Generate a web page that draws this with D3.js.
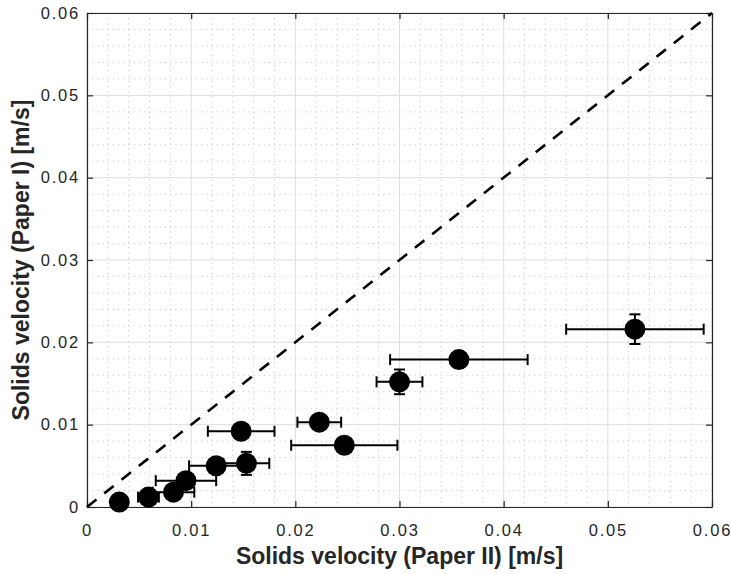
<!DOCTYPE html>
<html>
<head>
<meta charset="utf-8">
<script src="https://cdn.jsdelivr.net/npm/d3@7"></script>
<style>
  html, body { margin: 0; padding: 0; background: #fff; }
  svg { display: block; font-family: Arial, "Liberation Sans", Helvetica, sans-serif; }
</style>
</head>
<body>
<svg id="chart" width="731" height="574"></svg>
<script>
// Solids velocity comparison: Paper II (x) vs Paper I (y), with error bars
const xVals = [0.0031, 0.0059, 0.0083, 0.0095, 0.0124, 0.0153, 0.0148, 0.0223, 0.0247, 0.0300, 0.0357, 0.0526];
const yVals = [0.0006, 0.0012, 0.0018, 0.0032, 0.0050, 0.0053, 0.0092, 0.0103, 0.0075, 0.0152, 0.0179, 0.0216];
const xErr  = [0.0000, 0.0010, 0.0020, 0.0029, 0.0026, 0.0022, 0.0032, 0.0021, 0.0051, 0.0022, 0.0066, 0.0066];
const yErr  = [0.0000, 0.0000, 0.0000, 0.0000, 0.0000, 0.0014, 0.0000, 0.0000, 0.0000, 0.0015, 0.0000, 0.0018];
const majorTicks = [0, 0.01, 0.02, 0.03, 0.04, 0.05, 0.06];
const minorTicks = d3.range(0, 0.0601, 0.002).filter(v => Math.abs(v / 0.01 - Math.round(v / 0.01)) > 1e-6);
const tickLabels = ["0", "0.01", "0.02", "0.03", "0.04", "0.05", "0.06"];
const xTitle = "Solids velocity (Paper II) [m/s]";
const yTitle = "Solids velocity (Paper I) [m/s]";

const svg = d3.select("#chart");
const plotL = 87, plotR = 712, plotT = 13, plotB = 507;
const x = d3.scaleLinear().domain([0, 0.06]).range([plotL, plotR]);
const y = d3.scaleLinear().domain([0, 0.06]).range([plotB, plotT]);
const ink = "#262626";

// minor grid (dotted)
const grid = svg.append("g");
grid.selectAll("line.mx").data(minorTicks).join("line")
  .attr("x1", d => x(d)).attr("x2", d => x(d)).attr("y1", plotT).attr("y2", plotB)
  .attr("stroke", "#c8c8c8").attr("stroke-width", 1).attr("stroke-dasharray", "1.2,4");
grid.selectAll("line.my").data(minorTicks).join("line")
  .attr("y1", d => y(d)).attr("y2", d => y(d)).attr("x1", plotL).attr("x2", plotR)
  .attr("stroke", "#c8c8c8").attr("stroke-width", 1).attr("stroke-dasharray", "1.2,4");
// major grid (solid)
grid.selectAll("line.Mx").data(majorTicks).join("line")
  .attr("x1", d => x(d)).attr("x2", d => x(d)).attr("y1", plotT).attr("y2", plotB)
  .attr("stroke", "#dedede").attr("stroke-width", 1);
grid.selectAll("line.My").data(majorTicks).join("line")
  .attr("y1", d => y(d)).attr("y2", d => y(d)).attr("x1", plotL).attr("x2", plotR)
  .attr("stroke", "#dedede").attr("stroke-width", 1);

// axes with inward ticks on all sides
const fmt = (d, i) => tickLabels[i];
const ax = d3.axisBottom(x).tickValues(majorTicks).tickFormat(fmt).tickSizeInner(-6).tickSizeOuter(0).tickPadding(17);
const ay = d3.axisLeft(y).tickValues(majorTicks).tickFormat(fmt).tickSizeInner(-6).tickSizeOuter(0).tickPadding(7);
const axT = d3.axisTop(x).tickValues(majorTicks).tickFormat("").tickSizeInner(-6).tickSizeOuter(0);
const ayR = d3.axisRight(y).tickValues(majorTicks).tickFormat("").tickSizeInner(-6).tickSizeOuter(0);

function style(g) {
  g.select(".domain").attr("stroke", ink).attr("stroke-width", 1.2);
  g.selectAll(".tick line").attr("stroke", ink).attr("stroke-width", 1.2);
  g.selectAll(".tick text").attr("fill", ink).style("font-size", "16.5px").style("letter-spacing", "1.8px");
}
svg.append("g").attr("transform", `translate(0,${plotB})`).call(ax).call(style);
svg.append("g").attr("transform", `translate(${plotL},0)`).call(ay).call(style);
svg.append("g").attr("transform", `translate(0,${plotT})`).call(axT).call(style);
svg.append("g").attr("transform", `translate(${plotR},0)`).call(ayR).call(style);

// 1:1 reference line
svg.append("line")
  .attr("x1", x(0)).attr("y1", y(0)).attr("x2", x(0.06)).attr("y2", y(0.06))
  .attr("stroke", "#000").attr("stroke-width", 2.6).attr("stroke-dasharray", "12,10");

// data points with error bars
const pts = xVals.map((v, i) => ({ x: v, y: yVals[i], ex: xErr[i], ey: yErr[i] }));
const bars = svg.append("g").attr("stroke", "#000").attr("stroke-width", 2).attr("fill", "none");
const capH = 5.5;
pts.filter(d => d.ex > 0).forEach(d => {
  const yy = y(d.y), x0 = x(d.x - d.ex), x1 = x(d.x + d.ex);
  bars.append("line").attr("x1", x0).attr("x2", x1).attr("y1", yy).attr("y2", yy);
  bars.append("line").attr("x1", x0).attr("x2", x0).attr("y1", yy - capH).attr("y2", yy + capH);
  bars.append("line").attr("x1", x1).attr("x2", x1).attr("y1", yy - capH).attr("y2", yy + capH);
});
pts.filter(d => d.ey > 0).forEach(d => {
  const xx = x(d.x), y0 = y(d.y - d.ey), y1 = y(d.y + d.ey);
  bars.append("line").attr("x1", xx).attr("x2", xx).attr("y1", y0).attr("y2", y1);
  bars.append("line").attr("x1", xx - capH).attr("x2", xx + capH).attr("y1", y0).attr("y2", y0);
  bars.append("line").attr("x1", xx - capH).attr("x2", xx + capH).attr("y1", y1).attr("y2", y1);
});
svg.append("g").selectAll("circle").data(pts).join("circle")
  .attr("cx", d => x(d.x)).attr("cy", d => y(d.y)).attr("r", 10.5).attr("fill", "#000");

// axis titles
svg.append("text").attr("x", (plotL + plotR) / 2).attr("y", 564).attr("text-anchor", "middle")
  .attr("fill", ink).style("font-size", "23px").style("font-weight", "bold").text(xTitle);
svg.append("text").attr("transform", `translate(29,${(plotT + plotB) / 2}) rotate(-90)`).attr("text-anchor", "middle")
  .attr("fill", ink).style("font-size", "23px").style("font-weight", "bold").text(yTitle);
</script>
</body>
</html>
